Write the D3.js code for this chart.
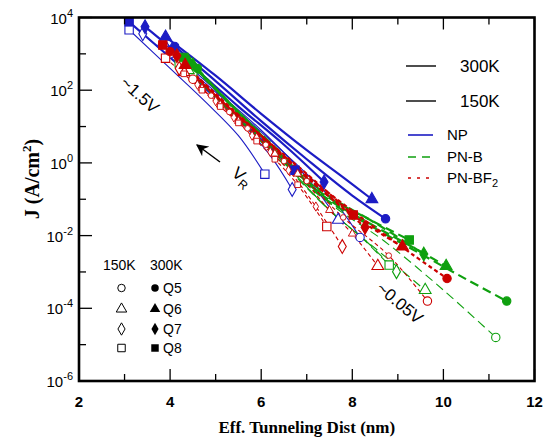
<!DOCTYPE html>
<html>
<head>
<meta charset="utf-8">
<script src="https://cdn.jsdelivr.net/npm/d3@7"></script>
<style>
  body { margin: 0; background: #fff; }
  text { font-family: "Liberation Sans", Arial, sans-serif; }
</style>
</head>
<body>
<svg id="chart" width="543" height="440"></svg>
<script>
// ---- axis ticks ----
const xTicks = [2, 4, 6, 8, 10, 12];
const xMinorTicks = [3, 5, 7, 9, 11];
const yExponents = [4, 2, 0, -2, -4, -6];
const yMinorExponents = [3, 1, -1, -3, -5];

// ---- devices / temperatures ----
const devices = ["Q5", "Q6", "Q7", "Q8"];
const temps = ["150K", "300K"];
const structures = ["NP", "PN-B", "PN-BF2"];

// ---- J (A/cm^2) versus effective tunneling distance (nm), one list per device Q5..Q8 ----
const np300 = [
  [[4.1, 1.6e3], [5.0, 178], [6.0, 14.1], [7.0, 1.26], [8.0, 0.126], [8.73, 2.9e-2]],
  [[3.9, 2.95e3], [5.0, 251], [6.0, 22.4], [7.0, 2.24], [7.8, 0.40], [8.43, 0.10]],
  [[3.45, 5.6e3], [4.5, 447], [5.5, 35.5], [6.5, 3.16], [7.38, 0.30]],
  [[3.1, 7.6e3], [4.0, 794], [5.0, 63], [6.0, 4.47], [6.74, 0.63]]
];
const np150 = [
  [[4.0, 1.0e3], [5.0, 89], [6.0, 7.1], [7.0, 0.50], [7.7, 6.3e-2], [8.17, 8.9e-3]],
  [[3.85, 2.0e3], [5.0, 100], [6.0, 7.9], [7.0, 0.40], [7.69, 2.7e-2]],
  [[3.4, 3.55e3], [4.5, 224], [5.5, 15.8], [6.2, 1.58], [6.68, 0.186]],
  [[3.1, 4.6e3], [4.0, 398], [4.8, 44.7], [5.5, 5.6], [6.08, 0.49]]
];
const pnb300 = [
  [[4.6, 398], [5.5, 22.4], [6.5, 1.12], [7.3, 0.126], [8.5, 1.58e-2], [9.5, 3.16e-3], [10.5, 6.3e-4], [11.39, 1.58e-4]],
  [[4.5, 501], [5.5, 25.1], [6.5, 1.26], [7.3, 0.141], [8.5, 1.78e-2], [9.3, 5.0e-3], [10.06, 1.45e-3]],
  [[4.4, 631], [5.5, 25.1], [6.5, 1.41], [7.3, 0.158], [8.5, 2.24e-2], [9.57, 3.1e-3]],
  [[4.3, 794], [5.5, 25.1], [6.5, 1.58], [7.3, 0.178], [8.3, 3.16e-2], [9.25, 7.6e-3]]
];
const pnb150 = [
  [[4.5, 282], [6.0, 4.47], [7.5, 7.9e-2], [8.7, 7.1e-3], [10.0, 3.16e-4], [11.15, 1.58e-5]],
  [[4.4, 355], [5.5, 15.8], [6.5, 0.89], [7.5, 5.0e-2], [8.6, 3.55e-3], [9.6, 3.16e-4]],
  [[4.3, 447], [5.5, 15.8], [6.5, 1.0], [7.5, 5.0e-2], [8.3, 7.1e-3], [8.97, 1.02e-3]],
  [[4.2, 562], [5.5, 15.8], [6.5, 1.0], [7.5, 5.0e-2], [8.2, 8.9e-3], [8.81, 1.55e-3]]
];
const pnbf300 = [
  [[4.0, 1.15e3], [4.76, 138], [6.0, 5.62], [7.0, 0.447], [8.3, 2.51e-2], [9.3, 3.16e-3], [10.08, 6.6e-4]],
  [[4.33, 490], [5.0, 79.4], [6.0, 5.62], [7.0, 0.40], [8.2, 2.51e-2], [9.10, 5.0e-3]],
  [[4.15, 891], [5.0, 70.8], [6.0, 5.0], [7.0, 0.40], [8.28, 1.7e-2]],
  [[3.84, 1.74e3], [4.4, 355], [5.0, 70.8], [6.0, 5.62], [7.0, 0.50], [8.02, 3.7e-2]]
];
const pnbf150 = [
  [[4.5, 200], [4.9, 70.8], [5.3, 25.1], [5.7, 8.9], [6.1, 3.16], [6.5, 1.12], [7.0, 0.316], [7.8, 3.16e-2], [8.8, 2.82e-3], [9.65, 1.58e-4]],
  [[4.3, 316], [4.7, 112], [5.1, 39.8], [5.5, 14.1], [5.9, 5.0], [6.3, 1.78], [6.8, 0.50], [7.5, 5.0e-2], [8.0, 1.12e-2], [8.56, 1.45e-3]],
  [[4.2, 398], [4.6, 141], [5.0, 50.1], [5.4, 17.8], [5.8, 5.62], [6.2, 2.0], [6.6, 0.631], [7.2, 6.3e-2], [7.78, 5.0e-3]],
  [[3.9, 759], [4.3, 282], [4.7, 100], [5.1, 35.5], [5.5, 12.6], [5.9, 3.98], [6.3, 1.26], [6.8, 0.251], [7.44, 1.78e-2]]
];

// ---- styles ----
const colors = { "NP": "#1c1cc4", "PN-B": "#0fa00f", "PN-BF2": "#cc0000" };
const dashes = { "NP": null, "PN-B": "9,5", "PN-BF2": "4,3" };
const widths = { "300K": 2.2, "150K": 1.1 };
const symbolTypes = [d3.symbolCircle, d3.symbolTriangle, d3.symbolDiamond, d3.symbolSquare];
const symbolSizes = [55, 60, 55, 70];

const series = [
  { s: "NP", t: "150K", data: np150, allMarks: false },
  { s: "NP", t: "300K", data: np300, allMarks: false },
  { s: "PN-B", t: "150K", data: pnb150, allMarks: false },
  { s: "PN-B", t: "300K", data: pnb300, allMarks: false },
  { s: "PN-BF2", t: "150K", data: pnbf150, allMarks: true },
  { s: "PN-BF2", t: "300K", data: pnbf300, allMarks: false }
];

// ---- layout ----
const svg = d3.select("#chart");
const x = d3.scaleLinear().domain([2, 12]).range([79, 534.5]);
const y = d3.scaleLog().domain([1e-6, 1e4]).range([381, 17.5]);
const [x0, x1] = x.range();
const [y0, y1] = y.range();

const line = d3.line()
  .x(d => x(d[0]))
  .y(d => y(d[1]))
  .curve(d3.curveCatmullRom.alpha(0.5));

const plot = svg.append("g");

// curves
series.forEach(ser => {
  ser.data.forEach(pts => {
    plot.append("path")
      .datum(pts)
      .attr("d", line)
      .attr("fill", "none")
      .attr("stroke", colors[ser.s])
      .attr("stroke-width", widths[ser.t])
      .attr("stroke-dasharray", dashes[ser.s]);
  });
});

// markers: end points full size, intermediate points smaller
series.forEach(ser => {
  ser.data.forEach((pts, i) => {
    const last = pts.length - 1;
    const marked = pts
      .map((d, k) => ({ d, end: k === 0 || k === last }))
      .filter(m => ser.allMarks || m.end);
    const filled = ser.t === "300K";
    plot.selectAll(null)
      .data(marked)
      .join("path")
      .attr("transform", m => `translate(${x(m.d[0])},${y(m.d[1])})`)
      .attr("d", m => d3.symbol().type(symbolTypes[i]).size(m.end ? symbolSizes[i] : symbolSizes[i] * 0.45)())
      .attr("fill", filled ? colors[ser.s] : "#fff")
      .attr("stroke", colors[ser.s])
      .attr("stroke-width", m => m.end ? 1.1 : 0.9);
  });
});

// ---- axes ----
const axes = svg.append("g").attr("stroke", "#000").attr("stroke-width", 1.3);
function tickLines(values, scale, orient, len) {
  values.forEach(v => {
    if (orient === "bottom") {
      axes.append("line").attr("x1", scale(v)).attr("x2", scale(v)).attr("y1", y0).attr("y2", y0 - len);
    } else if (orient === "top") {
      axes.append("line").attr("x1", scale(v)).attr("x2", scale(v)).attr("y1", y1).attr("y2", y1 + len);
    } else {
      axes.append("line").attr("x1", x0).attr("x2", x0 + len).attr("y1", scale(v)).attr("y2", scale(v));
    }
  });
}
tickLines(xTicks, x, "bottom", 12);
tickLines(xMinorTicks, x, "bottom", 7);
tickLines(xTicks, x, "top", 12);
tickLines(xMinorTicks, x, "top", 7);
tickLines(yExponents.map(e => Math.pow(10, e)), y, "left", 13);
tickLines(yMinorExponents.map(e => Math.pow(10, e)), y, "left", 7);

svg.append("rect")
  .attr("x", x0).attr("y", y1)
  .attr("width", x1 - x0).attr("height", y0 - y1)
  .attr("fill", "none").attr("stroke", "#000").attr("stroke-width", 2.6);

// x tick labels
svg.append("g").selectAll("text")
  .data(xTicks).join("text")
  .attr("x", d => x(d)).attr("y", 407)
  .attr("text-anchor", "middle")
  .attr("font-size", 15).attr("font-weight", "bold")
  .text(d => d);

// y tick labels: 10 with superscript exponent
const yl = svg.append("g").selectAll("text")
  .data(yExponents).join("text")
  .attr("x", 73).attr("y", d => y(Math.pow(10, d)) + 6)
  .attr("text-anchor", "end")
  .attr("font-size", 15);
yl.append("tspan").text("10");
yl.append("tspan").attr("dy", -7).attr("font-size", 11).text(d => d < 0 ? "-" + (-d) : d);

// axis titles
svg.append("text")
  .attr("x", (x0 + x1) / 2).attr("y", 433)
  .attr("text-anchor", "middle")
  .style("font-family", "'Liberation Serif', 'Times New Roman', serif")
  .attr("font-weight", "bold").attr("font-size", 17)
  .text("Eff. Tunneling Dist (nm)");

const yt = svg.append("text")
  .attr("transform", "translate(39,179) rotate(-90)")
  .attr("text-anchor", "middle")
  .style("font-family", "'Liberation Serif', 'Times New Roman', serif")
  .attr("font-weight", "bold").attr("font-size", 20);
yt.append("tspan").text("J (A/cm");
yt.append("tspan").attr("dy", -8).attr("font-size", 13).text("2");
yt.append("tspan").attr("dy", 8).text(")");

// ---- legend: temperatures and structures ----
const leg = svg.append("g");
[["300K", 66], ["150K", 101]].forEach(([t, ly]) => {
  leg.append("line").attr("x1", 406).attr("x2", 436).attr("y1", ly).attr("y2", ly)
    .attr("stroke", "#222").attr("stroke-width", 1.6);
  leg.append("text").attr("x", 460).attr("y", ly + 6).attr("font-size", 17).text(t);
});
[["NP", 135], ["PN-B", 157], ["PN-BF2", 178]].forEach(([s, ly]) => {
  leg.append("line").attr("x1", 408).attr("x2", 433).attr("y1", ly).attr("y2", ly)
    .attr("stroke", colors[s]).attr("stroke-width", 1.6)
    .attr("stroke-dasharray", s === "NP" ? null : (s === "PN-B" ? "8,6" : "3,6"));
  const tx = leg.append("text").attr("x", 447).attr("y", ly + 5).attr("font-size", 15);
  if (s === "PN-BF2") {
    tx.append("tspan").text("PN-BF");
    tx.append("tspan").attr("dy", 4).attr("font-size", 11).text("2");
  } else {
    tx.text(s);
  }
});

// ---- legend: devices ----
const dleg = svg.append("g");
dleg.append("text").attr("x", 103).attr("y", 270).attr("font-size", 14).text(temps[0]);
dleg.append("text").attr("x", 150).attr("y", 270).attr("font-size", 14).text(temps[1]);
const rowsY = [288, 309, 329, 348];
devices.forEach((dv, i) => {
  dleg.append("path")
    .attr("transform", `translate(121.5,${rowsY[i]})`)
    .attr("d", d3.symbol().type(symbolTypes[i]).size(symbolSizes[i] * 0.8))
    .attr("fill", "#fff").attr("stroke", "#000").attr("stroke-width", 1);
  dleg.append("path")
    .attr("transform", `translate(155,${rowsY[i]})`)
    .attr("d", d3.symbol().type(symbolTypes[i]).size(symbolSizes[i] * 0.8))
    .attr("fill", "#000");
  dleg.append("text").attr("x", 163).attr("y", rowsY[i] + 5).attr("font-size", 14).text(dv);
});

// ---- bias annotations ----
svg.append("text")
  .attr("transform", "translate(139,96) rotate(42)")
  .attr("text-anchor", "middle").attr("dominant-baseline", "middle")
  .attr("font-size", 17).text("~1.5V");
svg.append("text")
  .attr("transform", "translate(399,304) rotate(40)")
  .attr("text-anchor", "middle").attr("dominant-baseline", "middle")
  .attr("font-size", 17).text("~0.05V");

const vr = svg.append("text")
  .attr("transform", "translate(241,178) rotate(40)")
  .attr("text-anchor", "middle").attr("dominant-baseline", "middle")
  .attr("font-size", 17);
vr.append("tspan").text("V");
vr.append("tspan").attr("dy", 5).attr("font-size", 12).text("R");

// arrow pointing toward higher bias
svg.append("defs").append("marker")
  .attr("id", "arrowhead").attr("viewBox", "0 0 10 10")
  .attr("refX", 9).attr("refY", 5)
  .attr("markerWidth", 8).attr("markerHeight", 8)
  .attr("orient", "auto")
  .append("path").attr("d", "M0,0 L10,5 L0,10 L3,5 Z").attr("fill", "#000");
svg.append("line")
  .attr("x1", 220).attr("y1", 162).attr("x2", 197).attr("y2", 145)
  .attr("stroke", "#000").attr("stroke-width", 1.5)
  .attr("marker-end", "url(#arrowhead)");
</script>
</body>
</html>
